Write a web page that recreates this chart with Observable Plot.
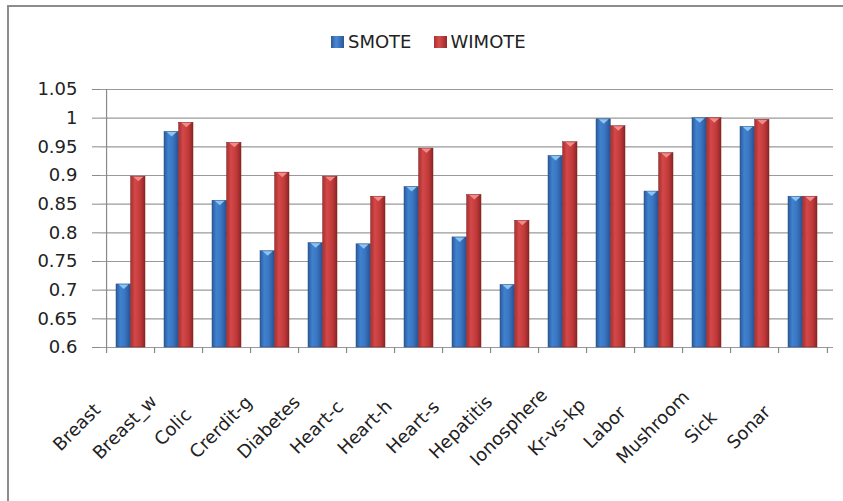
<!DOCTYPE html>
<html>
<head>
<meta charset="utf-8">
<script src="https://cdn.jsdelivr.net/npm/d3@7"></script>
<script src="https://cdn.jsdelivr.net/npm/@observablehq/plot@0.6"></script>
<style>
  html, body { margin: 0; padding: 0; background: #fff; }
  #wrap { position: relative; width: 843px; height: 501px; overflow: hidden; font-family: "DejaVu Sans", sans-serif; }
  #border { position: absolute; left: 7px; top: 5px; right: -10px; bottom: -10px; border-top: 2px solid #8c8c8c; border-left: 2px solid #8c8c8c; }
  #legend { position: absolute; top: 31px; left: 331px; display: flex; align-items: center; font-size: 18px; color: #222; white-space: nowrap; }
  #legend .sw { width: 13px; height: 12px; display: inline-block; margin-right: 4px; }
  #legend .item { display: flex; align-items: center; margin-right: 22px; }
  #chart { position: absolute; left: 0; top: 0; }
</style>
</head>
<body>
<div id="wrap">
  <div id="border"></div>
  <div id="legend"></div>
  <div id="chart"></div>
</div>
<script>
const categories = ["Breast","Breast_w","Colic","Crerdit-g","Diabetes","Heart-c","Heart-h","Heart-s","Hepatitis","Ionosphere","Kr-vs-kp","Labor","Mushroom","Sick","Sonar"];
const smote  = [0.710,0.976,0.856,0.768,0.782,0.780,0.880,0.792,0.709,0.934,0.998,0.872,1.000,0.985,0.863];
const wimote = [0.898,0.992,0.957,0.905,0.898,0.863,0.947,0.866,0.821,0.958,0.986,0.939,1.000,0.997,0.863];
const series = ["SMOTE","WIMOTE"];
const yTicks = [0.6,0.65,0.7,0.75,0.8,0.85,0.9,0.95,1,1.05];

const W = 843, H = 501, mL = 100, mR = 10, mT = 89, mB = 154;
const step = (W - mL - mR) / categories.length;
const half = step * 0.6 / 2;

const dataS = categories.map((c, i) => ({category: c, series: series[0], value: smote[i]}));
const dataW = categories.map((c, i) => ({category: c, series: series[1], value: wimote[i]}));

const flatTri = {
  draw(ctx, size) {
    const r = Math.sqrt(size / Math.PI);
    ctx.moveTo(-r * 1.1, 0);
    ctx.lineTo(r * 1.1, 0);
    ctx.lineTo(0, r);
    ctx.closePath();
  }
};

const chart = Plot.plot({
  width: W, height: H,
  marginLeft: mL, marginRight: mR, marginTop: mT, marginBottom: mB,
  style: {fontFamily: "DejaVu Sans, sans-serif", fontSize: "18px", color: "#222", background: "transparent", overflow: "visible"},
  x: {domain: categories, paddingInner: 0.4, paddingOuter: 0.2, axis: null, label: null},
  y: {domain: [yTicks[0], yTicks[yTicks.length - 1]], axis: null, label: null},
  marks: [
    Plot.gridY(yTicks, {stroke: "#9a9a9a", strokeOpacity: 1, strokeWidth: 1.2}),
    Plot.barY(dataS, {x: "category", y1: yTicks[0], y2: "value", insetRight: half, fill: "url(#gBlue)", stroke: "#2a4f80", strokeWidth: 0.5}),
    Plot.barY(dataW, {x: "category", y1: yTicks[0], y2: "value", insetLeft: half, fill: "url(#gRed)", stroke: "#7e2022", strokeWidth: 0.5}),
    Plot.dot(dataS, {x: "category", y: "value", dx: -half / 2, symbol: flatTri, r: 4.5, fill: "#8cc4f2", stroke: "none"}),
    Plot.dot(dataW, {x: "category", y: "value", dx: half / 2, symbol: flatTri, r: 4.5, fill: "#f28a8a", stroke: "none"}),
    Plot.ruleX([categories[0]], {dx: -step / 2, stroke: "#8a8a8a", strokeWidth: 1.2}),
    Plot.ruleX(categories, {x: d => d, dx: -step / 2, y1: yTicks[0], y2: yTicks[0], insetBottom: -6, stroke: "#8a8a8a", strokeWidth: 1.2}),
    Plot.ruleX([categories[categories.length - 1]], {dx: step / 2, y1: yTicks[0], y2: yTicks[0], insetBottom: -6, stroke: "#8a8a8a", strokeWidth: 1.2}),
    Plot.axisY(yTicks, {tickSize: 8, tickPadding: 15, tickFormat: d => String(d), fontSize: 18, stroke: "#8a8a8a", fill: "#222", label: null}),
    Plot.text(categories, {x: d => d, frameAnchor: "bottom", rotate: -45, dx: -50, dy: 84, fontSize: 18, fill: "#222"})
  ]
});

const svg = d3.select(chart);
const defs = svg.insert("defs", ":first-child");
function grad(id, stops) {
  const g = defs.append("linearGradient").attr("id", id).attr("x1", "0%").attr("x2", "100%").attr("y1", "0%").attr("y2", "0%");
  stops.forEach(([o, c]) => g.append("stop").attr("offset", o).attr("stop-color", c));
}
grad("gBlue", [["0%", "#2b5a98"], ["30%", "#4082d2"], ["65%", "#3a74c0"], ["100%", "#27518c"]]);
grad("gRed",  [["0%", "#a83031"], ["30%", "#d34848"], ["65%", "#c43b3c"], ["100%", "#8e2627"]]);

document.getElementById("chart").appendChild(chart);

const legend = d3.select("#legend");
[["SMOTE", "linear-gradient(90deg,#2b5a98,#4a8ad6 40%,#2a5794)"], ["WIMOTE", "linear-gradient(90deg,#a83031,#d84c4c 40%,#952829)"]].forEach(([name, bg]) => {
  const it = legend.append("div").attr("class", "item");
  it.append("span").attr("class", "sw").style("background", bg);
  it.append("span").text(name);
});
</script>
</body>
</html>
